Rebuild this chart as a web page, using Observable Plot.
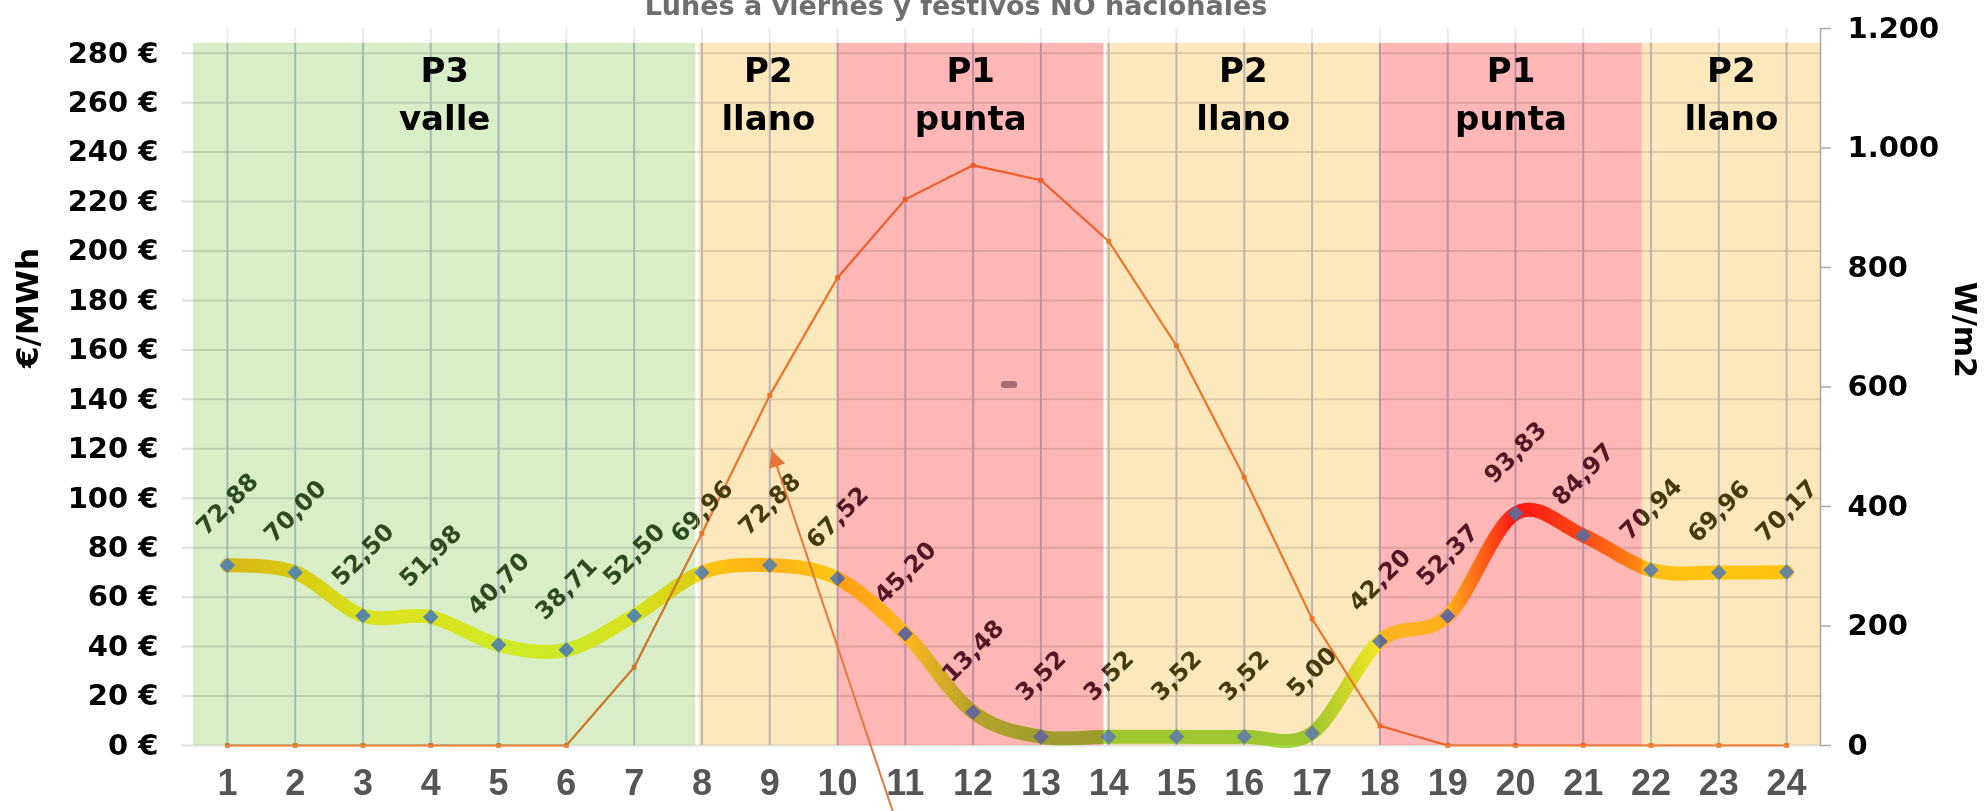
<!DOCTYPE html>
<html>
<head>
<meta charset="utf-8">
<script src="https://cdn.jsdelivr.net/npm/d3@7"></script>
<script src="https://cdn.jsdelivr.net/npm/@observablehq/plot@0.6"></script>
<style>
  html, body { margin: 0; padding: 0; background: #fff; }
  #chart { position: relative; width: 1986px; height: 811px; overflow: hidden; }
  #chart svg { display: block; }
</style>
</head>
<body>
<div id="chart"></div>
<svg width="0" height="0" style="position:absolute">
  <defs><linearGradient id="priceGrad" x1="0" x2="1" y1="0" y2="0"></linearGradient></defs>
</svg>
<script>
// ---------- data ----------
const hours = [1,2,3,4,5,6,7,8,9,10,11,12,13,14,15,16,17,18,19,20,21,22,23,24];
const price = [72.88, 70.00, 52.50, 51.98, 40.70, 38.71, 52.50, 69.96, 72.88, 67.52, 45.20, 13.48,
               3.52, 3.52, 3.52, 3.52, 5.00, 42.20, 52.37, 93.83, 84.97, 70.94, 69.96, 70.17];
const irradiance = [0, 0, 0, 0, 0, 0, 131, 355, 586, 783, 914, 971,
                    946, 844, 669, 449, 212, 33, 0, 0, 0, 0, 0, 0];

const periodCode  = ["P3", "P2", "P1", "P2", "P1", "P2"];
const periodName  = ["valle", "llano", "punta", "llano", "punta", "llano"];
const periodStart = [0.5, 7.96, 10, 13.97, 18, 21.87];
const periodEnd   = [7.91, 10, 13.93, 18, 21.87, 24.5];
const periodTop   = 284;

const euroTicks = [0, 20, 40, 60, 80, 100, 120, 140, 160, 180, 200, 220, 240, 260, 280];
const wattTicks = [0, 200, 400, 600, 800, 1000, 1200];

const title = "Lunes a viernes y festivos NO nacionales";
const leftTitle = "€/MWh";
const rightTitle = "W/m2";

// annotation arrow (in data units: hour, €)
const arrowRows = [{x1: 10.82, y1: -27, x2: 9.02, y2: 120}];
const smudgeRows = [{x1: 12.46, x2: 12.6, y: 146}];

// ---------- styling ----------
const X_DOMAIN = [0.5, 24.5];
const EUR_TOP = 290, WATT_TOP = 1200;
const toEur = w => w * EUR_TOP / WATT_TOP;
const periodColor = {P3: "#d9eec7", P2: "#fde8bd", P1: "#ffb7b5"};
const labelColor  = {P3: "#2e4a20", P2: "#453c0e", P1: "#541626"};

const locale = d3.formatLocale({decimal: ",", thousands: ".", grouping: [3], currency: ["", " €"]});
const fmtPrice = locale.format(".2f");
const fmtWatt = locale.format(",");

const priceRows = hours.map((h, i) => ({hour: h, price: price[i]}));
const irrRows = hours.map((h, i) => ({hour: h, w: irradiance[i]}));
const bandRows = periodCode.map((c, i) => ({code: c, name: periodName[i], start: periodStart[i], end: periodEnd[i]}));

// price line gradient coloured by value (green → yellow → gold → red)
const valueColor = d3.scaleLinear()
  .domain([0, 45, 70, 73, 85, 94])
  .range(["#96d741", "#ffff2d", "#ffd814", "#ffc21e", "#fa641c", "#fa1c1c"])
  .clamp(true);
const grad = document.getElementById("priceGrad");
priceRows.forEach((d, i) => {
  const s = document.createElementNS("http://www.w3.org/2000/svg", "stop");
  s.setAttribute("offset", (i / (priceRows.length - 1)).toFixed(4));
  s.setAttribute("stop-color", valueColor(d.price));
  grad.appendChild(s);
});

const bold = {fontWeight: "bold", fontFamily: "DejaVu Sans"};
const periodTypes = ["P3", "P2", "P1"];

const chart = Plot.plot({
  width: 1986,
  height: 811,
  marginLeft: 193,
  marginRight: 166,
  marginTop: 28,
  marginBottom: 66,
  x: {domain: X_DOMAIN, axis: null},
  y: {domain: [0, EUR_TOP], axis: null},
  color: {type: "identity"},
  style: {background: "#ffffff", overflow: "hidden"},
  marks: [
    // grid
    Plot.ruleY(euroTicks, {y: d => d, stroke: "#e0e0e0", strokeWidth: 2, insetLeft: -11}),
    Plot.ruleX(hours, {x: d => d, y1: 0, y2: periodTop, stroke: "#bcc8ee", strokeWidth: 2}),
    Plot.ruleX(hours, {x: d => d, y1: periodTop, y2: EUR_TOP, stroke: "#e8eaec", strokeWidth: 2}),
    Plot.link(smudgeRows, {x1: "x1", x2: "x2", y1: "y", y2: "y", stroke: "#a898a8", strokeWidth: 7, strokeLinecap: "round"}),
    // price curve
    Plot.line(priceRows, {x: "hour", y: "price", curve: "cardinal", stroke: "url(#priceGrad)", strokeWidth: 14}),
    // irradiance line
    Plot.line(irrRows, {x: "hour", y: d => toEur(d.w), stroke: "#ee8038", strokeWidth: 2.2}),
    Plot.dot(irrRows, {x: "hour", y: d => toEur(d.w), symbol: "square", r: 2.7, fill: "#ee8038"}),
    // price markers
    Plot.dot(priceRows, {x: "hour", y: "price", symbol: "diamond2", r: 7, fill: "#6991d2"}),
    // tariff period bands (multiplied over everything drawn before)
    Plot.rect(bandRows, {x1: "start", x2: "end", y1: 0, y2: periodTop, fill: d => periodColor[d.code], mixBlendMode: "multiply"}),
    // price labels, tinted by the period underneath (each copy clipped to its periods below)
    ...periodTypes.map(code => Plot.text(priceRows, {x: "hour", y: "price", text: d => fmtPrice(d.price), rotate: -45, dy: -61,
      fontSize: 24, fill: labelColor[code], ...bold})),
    // annotation arrow
    Plot.link(arrowRows, {x1: "x1", y1: "y1", x2: "x2", y2: "y2", stroke: "#e4783a", strokeWidth: 2}),
    Plot.text(arrowRows, {x: "x2", y: "y2", text: () => "▲", rotate: -18.6, dx: 3, dy: 8, fontSize: 22, fill: "#e8763a", fontFamily: "DejaVu Sans"}),
    Plot.text(bandRows, {x: d => (d.start + d.end) / 2, text: d => `${d.code}\n${d.name}`, frameAnchor: "top",
      lineAnchor: "top", dy: 20, lineHeight: 1.4, fontSize: 34, fill: "#000", ...bold}),
    // right axis
    Plot.ruleX([X_DOMAIN[1]], {x: d => d, stroke: "#a8a8a8", strokeWidth: 1.5}),
    Plot.ruleY(wattTicks, {y: toEur, insetLeft: 1627, insetRight: -11, stroke: "#a8a8a8", strokeWidth: 1.5}),
    Plot.text(wattTicks, {y: toEur, text: d => fmtWatt(d), frameAnchor: "right", textAnchor: "start", dx: 27,
      fontSize: 29, fill: "#000", ...bold}),
    // left axis labels
    Plot.text(euroTicks, {y: d => d, text: d => `${d} €`, frameAnchor: "left", textAnchor: "end", dx: -35,
      fontSize: 29, fill: "#000", ...bold}),
    // x axis labels
    Plot.text(hours, {x: d => d, text: d => String(d), frameAnchor: "bottom", dy: 49,
      fontSize: 36, fill: "#555", fontWeight: "bold", fontFamily: "Liberation Sans"}),
    // axis titles
    Plot.text([leftTitle], {frameAnchor: "left", dx: -165, dy: -19, rotate: -90, fontSize: 31, fill: "#000", ...bold}),
    Plot.text([rightTitle], {frameAnchor: "right", dx: 144, dy: -9, rotate: 90, fontSize: 30, fill: "#000", ...bold}),
    // title (partly cut at the top, as in the original)
    Plot.text([title], {frameAnchor: "top", dx: -51, dy: -33, fontSize: 27, fill: "#6e6e6e", ...bold})
  ]
});

// clip each tinted copy of the price labels to the periods of its type
(function clipLabels() {
  const ns = "http://www.w3.org/2000/svg";
  const xs = chart.scale("x");
  const px = v => (xs && xs.apply) ? xs.apply(v) : 193 + (v - X_DOMAIN[0]) / (X_DOMAIN[1] - X_DOMAIN[0]) * 1627;
  const defs = document.createElementNS(ns, "defs");
  chart.insertBefore(defs, chart.firstChild);
  periodTypes.forEach(code => {
    const cp = document.createElementNS(ns, "clipPath");
    cp.setAttribute("id", `clip-${code}`);
    cp.setAttribute("clipPathUnits", "userSpaceOnUse");
    bandRows.forEach((b, i) => {
      if (b.code !== code) return;
      const left = i === 0 ? -5000 : px((bandRows[i - 1].end + b.start) / 2);
      const right = i === bandRows.length - 1 ? 5000 : px((b.end + bandRows[i + 1].start) / 2);
      const r = document.createElementNS(ns, "rect");
      r.setAttribute("x", left);
      r.setAttribute("width", right - left);
      r.setAttribute("y", -5000);
      r.setAttribute("height", 10000);
      cp.appendChild(r);
    });
    defs.appendChild(cp);
    const col = labelColor[code].toLowerCase();
    const g = Array.from(chart.querySelectorAll("g")).find(el => (el.getAttribute("fill") || "").toLowerCase() === col);
    if (g) g.setAttribute("clip-path", `url(#clip-${code})`);
  });
})();

document.getElementById("chart").appendChild(chart);
</script>
</body>
</html>
